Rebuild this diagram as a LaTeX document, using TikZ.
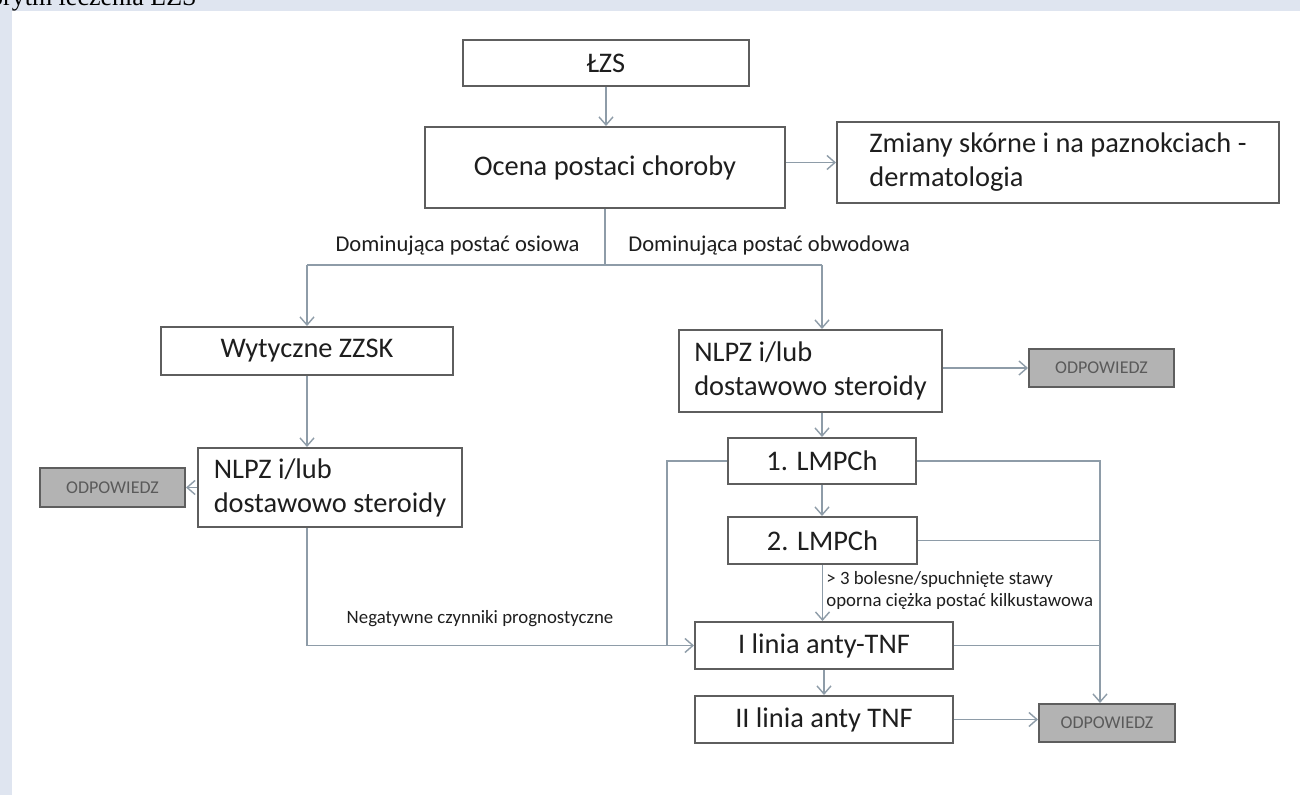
\documentclass[tikz,border=0pt]{standalone}
\usepackage{fontspec}
\setmainfont{Carlito}
\newfontfamily\hdrfont{Liberation Serif}
\usetikzlibrary{arrows.meta}
\definecolor{bandc}{HTML}{DFE5F0}
\definecolor{boxc}{HTML}{5E5E5E}
\definecolor{linec}{HTML}{8E9CA8}
\definecolor{txtc}{HTML}{1E1E1E}
\definecolor{odpfill}{HTML}{B3B3B3}
\definecolor{odptxt}{HTML}{5A5A5A}
\begin{document}
\begin{tikzpicture}[x=0.5pt,y=-0.5pt,
 box/.style={draw=boxc, line width=1pt, fill=white, text=txtc, inner sep=0pt, font=\fontsize{14.2}{17}\selectfont},
 odp/.style={draw=boxc, line width=1pt, fill=odpfill, text=odptxt, inner sep=0pt, font=\fontsize{9}{10}\selectfont},
 conn/.style={draw=linec, line width=0.7pt},
 arr/.style={conn, -{Straight Barb[length=4pt,width=7pt]}},
 lbl/.style={text=txtc, inner sep=0pt, font=\fontsize{11.3}{13}\selectfont},
 small/.style={text=txtc, inner sep=0pt, font=\fontsize{9.4}{11}\selectfont, align=left}]
\useasboundingbox (0,0) rectangle (1300,795);
\fill[white] (0,0) rectangle (1300,795);
\begin{scope}
\clip (0,0) rectangle (1300,795);
\fill[bandc] (0,0) rectangle (1300,11);
\fill[bandc] (0,0) rectangle (12,795);
\node[anchor=base east, font=\hdrfont\fontsize{13}{13}\selectfont, text=black, inner sep=0pt] (hdr) at (197,6) {Algorytm leczenia ŁZS};
\end{scope}

% boxes
\node[box, minimum width=143pt, minimum height=23pt] (lzs) at (606,63) {ŁZS};
\node[box, minimum width=180pt, minimum height=40.5pt] (ocena) at (605,167.5) {Ocena postaci choroby};
\node[box, minimum width=221pt, minimum height=40.5pt, align=left] (zmiany) at (1058,162.5) {Zmiany skórne i na paznokciach -\\dermatologia};
\node[box, minimum width=146pt, minimum height=24pt] (wyt) at (307,351) {Wytyczne ZZSK};
\node[box, minimum width=132pt, minimum height=39.5pt, align=left] (nlpzL) at (330,487.5) {NLPZ i/lub\\dostawowo steroidy};
\node[odp, minimum width=72.5pt, minimum height=19.5pt] (odpL) at (112.5,487.5) {ODPOWIEDZ};
\node[box, minimum width=131.5pt, minimum height=41pt, align=left] (nlpzR) at (810.5,371) {NLPZ i/lub\\dostawowo steroidy};
\node[odp, minimum width=72.5pt, minimum height=19pt] (odpR) at (1101.5,368) {ODPOWIEDZ};
\node[box, minimum width=94pt, minimum height=23pt] (lmp1) at (822,461) {1. LMPCh};
\node[box, minimum width=94.5pt, minimum height=23.5pt] (lmp2) at (822.5,540.5) {2. LMPCh};
\node[box, minimum width=129pt, minimum height=23.5pt] (ilinia) at (824,645.5) {I linia anty-TNF};
\node[box, minimum width=129pt, minimum height=23.5pt] (iilinia) at (824,719.5) {II linia anty TNF};
\node[odp, minimum width=68pt, minimum height=19pt] (odp3) at (1107,723) {ODPOWIEDZ};

% labels
\node[lbl, anchor=base east] (labL) at (580,252) {Dominująca postać osiowa};
\node[lbl, anchor=base west] (labR) at (628,252) {Dominująca postać obwodowa};
\node[small, anchor=base] (labN) at (480,624) {Negatywne czynniki prognostyczne};
\node[small, anchor=north west] (labS) at (826,571) {> 3 bolesne/spuchnięte stawy\\oporna ciężka postać kilkustawowa};

% connectors
\coordinate (jC) at (605,265);
\coordinate (jL) at (307,265);
\coordinate (jR) at (822,265);
\coordinate (loopx) at (667,0);
\coordinate (rx) at (1100,0);
\draw[arr] (lzs.south) -- (lzs.south |- ocena.north);
\draw[arr] (ocena.east |- zmiany.west) -- (zmiany.west);
\draw[conn] (ocena.south) -- (jC);
\draw[conn] (jL) -- (jR);
\draw[arr] (jL) -- (wyt.north);
\draw[arr] (jR) -- (jR |- nlpzR.north);
\draw[arr] (wyt.south) -- (wyt.south |- nlpzL.north);
\draw[arr] (nlpzL.west) -- (odpL.east);
\draw[arr] (wyt.south |- nlpzL.south) -- (wyt.south |- ilinia.west) -- (ilinia.west);
\draw[arr] (nlpzR.east |- odpR.west) -- (odpR.west);
\draw[arr] (lmp1.north |- nlpzR.south) -- (lmp1.north);
\draw[arr] (lmp1.south) -- (lmp1.south |- lmp2.north);
\draw[arr] (lmp2.south) -- (lmp2.south |- ilinia.north);
\draw[conn] (lmp1.west) -| (loopx |- ilinia.west);
\draw[arr] (lmp1.east) -| (rx |- odp3.north);
\draw[conn] (lmp2.east) -- (rx |- lmp2.east);
\draw[conn] (ilinia.east) -- (rx |- ilinia.east);
\draw[arr] (ilinia.south) -- (ilinia.south |- iilinia.north);
\draw[arr] (iilinia.east) -- (iilinia.east -| odp3.west);
\end{tikzpicture}
\end{document}
